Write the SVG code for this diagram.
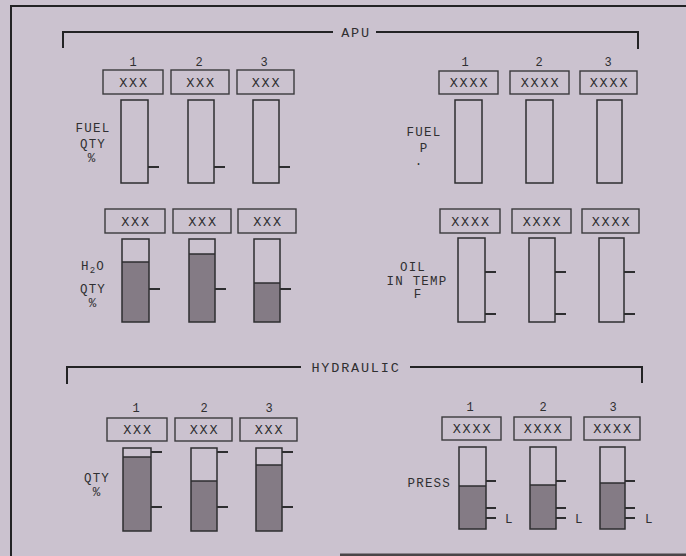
<svg xmlns="http://www.w3.org/2000/svg" width="686" height="556" viewBox="0 0 686 556">
<style>
text{font-family:"Liberation Mono","DejaVu Sans Mono",monospace;fill:#2f2f31}
.t{font-size:13.5px;letter-spacing:1.8px}
.n{font-size:12px}
.lbl{font-size:12.5px;letter-spacing:1.2px}
.box{fill:none;stroke:#3a3a3c;stroke-width:1.4}
.g{fill:none;stroke:#2e2e30;stroke-width:1.5}
.fill{fill:#847b85}
.tick{stroke:#2e2e30;stroke-width:1.8}
.frame{fill:none;stroke:#232325;stroke-width:2}
</style>
<rect width="686" height="556" fill="#cbc2cf"/>
<rect x="340" y="553.5" width="346" height="2.5" fill="#4a4548"/>
<g id="frame">
<path class="frame" d="M11,556 V6 H686"/>
</g>
<g id="connectors">
<path class="frame" d="M63,48 V32 H333 M376,32 H638 V49"/>
<path class="frame" d="M67,384 V367 H301 M410,367 H642 V383"/>
</g>
<g id="apu-label"><text class="t" x="356" y="36.5" text-anchor="middle">APU</text></g>
<g id="hyd-label"><text class="t" x="356" y="371.5" text-anchor="middle">HYDRAULIC</text></g>

<g id="apu-fuel-qty">
<text class="lbl" x="93" y="131.5" text-anchor="middle">FUEL</text>
<text class="lbl" x="93" y="147.5" text-anchor="middle">QTY</text>
<text class="lbl" x="92" y="162" text-anchor="middle">%</text>
<text class="n" x="133" y="66" text-anchor="middle">1</text>
<text class="n" x="199" y="66" text-anchor="middle">2</text>
<text class="n" x="264" y="66" text-anchor="middle">3</text>
<rect class="box" x="103" y="70" width="60" height="24"/>
<rect class="box" x="171" y="70" width="58" height="24"/>
<rect class="box" x="237" y="70" width="57" height="24"/>
<text class="t" x="134" y="86.5" text-anchor="middle">XXX</text>
<text class="t" x="201" y="86.5" text-anchor="middle">XXX</text>
<text class="t" x="266.5" y="86.5" text-anchor="middle">XXX</text>
<rect class="g" x="121" y="100" width="27" height="83"/>
<rect class="g" x="188" y="100" width="26" height="83"/>
<rect class="g" x="253" y="100" width="26" height="83"/>
<path class="tick" d="M148,167 H159 M214,167 H225 M279,167 H290"/>
</g>

<g id="apu-fuel-p">
<text class="lbl" x="424" y="135.5" text-anchor="middle">FUEL</text>
<text class="lbl" x="424" y="151.5" text-anchor="middle">P</text>
<text class="lbl" x="419" y="165" text-anchor="middle">.</text>
<text class="n" x="465" y="66" text-anchor="middle">1</text>
<text class="n" x="539" y="66" text-anchor="middle">2</text>
<text class="n" x="608" y="66" text-anchor="middle">3</text>
<rect class="box" x="439" y="71" width="59" height="23"/>
<rect class="box" x="510" y="71" width="59" height="23"/>
<rect class="box" x="580" y="71" width="57" height="23"/>
<text class="t" x="469.5" y="87" text-anchor="middle">XXXX</text>
<text class="t" x="540.5" y="87" text-anchor="middle">XXXX</text>
<text class="t" x="609.5" y="87" text-anchor="middle">XXXX</text>
<rect class="g" x="455" y="100" width="27" height="83"/>
<rect class="g" x="526" y="100" width="27" height="83"/>
<rect class="g" x="597" y="100" width="25" height="83"/>
</g>

<g id="apu-h2o-qty">
<text class="lbl" x="93" y="269.5" text-anchor="middle">H<tspan font-size="9" dy="3">2</tspan><tspan dy="-3">O</tspan></text>
<text class="lbl" x="93" y="293" text-anchor="middle">QTY</text>
<text class="lbl" x="93" y="307" text-anchor="middle">%</text>
<rect class="box" x="105" y="209" width="60" height="24"/>
<rect class="box" x="173" y="209" width="58" height="24"/>
<rect class="box" x="238" y="209" width="58" height="24"/>
<text class="t" x="136" y="225.5" text-anchor="middle">XXX</text>
<text class="t" x="203" y="225.5" text-anchor="middle">XXX</text>
<text class="t" x="268" y="225.5" text-anchor="middle">XXX</text>
<rect class="fill" x="122" y="262" width="27" height="60"/>
<rect class="fill" x="189" y="254" width="26" height="68"/>
<rect class="fill" x="254" y="283" width="26" height="39"/>
<rect class="g" x="122" y="239" width="27" height="83"/>
<rect class="g" x="189" y="239" width="26" height="83"/>
<rect class="g" x="254" y="239" width="26" height="83"/>
<path class="g" d="M122,262 H149 M189,254 H215 M254,283 H280"/>
<path class="tick" d="M149,289 H160 M215,289 H226 M280,289 H291"/>
</g>

<g id="apu-oil-temp">
<text class="lbl" x="413" y="271" text-anchor="middle">OIL</text>
<text class="lbl" x="417" y="285" text-anchor="middle">IN TEMP</text>
<text class="lbl" x="418" y="298" text-anchor="middle">F</text>
<rect class="box" x="440" y="209" width="60" height="24"/>
<rect class="box" x="512" y="209" width="59" height="24"/>
<rect class="box" x="582" y="209" width="57" height="24"/>
<text class="t" x="471" y="225.5" text-anchor="middle">XXXX</text>
<text class="t" x="542.5" y="225.5" text-anchor="middle">XXXX</text>
<text class="t" x="611.5" y="225.5" text-anchor="middle">XXXX</text>
<rect class="g" x="458" y="238" width="27" height="84"/>
<rect class="g" x="529" y="238" width="26" height="84"/>
<rect class="g" x="599" y="238" width="25" height="84"/>
<path class="tick" d="M485,272 H496 M485,314 H496 M555,272 H566 M555,314 H566 M624,272 H635 M624,314 H635"/>
</g>

<g id="hyd-qty">
<text class="lbl" x="97" y="482" text-anchor="middle">QTY</text>
<text class="lbl" x="97" y="496" text-anchor="middle">%</text>
<text class="n" x="136" y="412" text-anchor="middle">1</text>
<text class="n" x="204" y="412" text-anchor="middle">2</text>
<text class="n" x="269" y="412" text-anchor="middle">3</text>
<rect class="box" x="107" y="418" width="60" height="23"/>
<rect class="box" x="175" y="418" width="57" height="23"/>
<rect class="box" x="240" y="418" width="57" height="23"/>
<text class="t" x="138" y="434" text-anchor="middle">XXX</text>
<text class="t" x="204.5" y="434" text-anchor="middle">XXX</text>
<text class="t" x="269.5" y="434" text-anchor="middle">XXX</text>
<rect class="fill" x="123" y="457" width="28" height="74"/>
<rect class="fill" x="191" y="481" width="26" height="50"/>
<rect class="fill" x="256" y="465" width="26" height="66"/>
<rect class="g" x="123" y="448" width="28" height="83"/>
<rect class="g" x="191" y="448" width="26" height="83"/>
<rect class="g" x="256" y="448" width="26" height="83"/>
<path class="g" d="M123,457 H151 M191,481 H217 M256,465 H282"/>
<path class="tick" d="M151,452 H162 M151,507 H162 M217,452 H228 M217,507 H228 M282,452 H293 M282,507 H293"/>
</g>

<g id="hyd-press">
<text class="lbl" x="451" y="486.5" text-anchor="end">PRESS</text>
<text class="n" x="470" y="411" text-anchor="middle">1</text>
<text class="n" x="543" y="411" text-anchor="middle">2</text>
<text class="n" x="613" y="411" text-anchor="middle">3</text>
<rect class="box" x="442" y="417" width="59" height="23"/>
<rect class="box" x="514" y="417" width="57" height="23"/>
<rect class="box" x="584" y="417" width="56" height="23"/>
<text class="t" x="472.5" y="433" text-anchor="middle">XXXX</text>
<text class="t" x="543.5" y="433" text-anchor="middle">XXXX</text>
<text class="t" x="613" y="433" text-anchor="middle">XXXX</text>
<rect class="fill" x="459" y="486" width="27" height="43"/>
<rect class="fill" x="530" y="485" width="26" height="44"/>
<rect class="fill" x="600" y="483" width="25" height="46"/>
<rect class="g" x="459" y="447" width="27" height="82"/>
<rect class="g" x="530" y="447" width="26" height="82"/>
<rect class="g" x="600" y="447" width="25" height="82"/>
<path class="g" d="M459,486 H486 M530,485 H556 M600,483 H625"/>
<path class="tick" d="M486,481 H496 M486,508 H496 M486,518 H496 M556,481 H566 M556,508 H566 M556,518 H566 M625,481 H635 M625,508 H635 M625,518 H635"/>
<text class="lbl" x="505" y="522.5">L</text>
<text class="lbl" x="575" y="522.5">L</text>
<text class="lbl" x="645" y="522.5">L</text>
</g>
</svg>
